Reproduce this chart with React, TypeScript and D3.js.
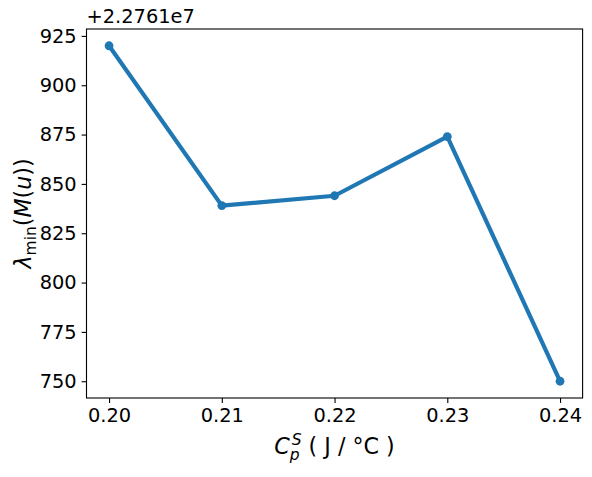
import React, { useEffect, useRef } from "react";
import * as d3 from "d3";

// heat capacity values (x) and lambda_min offsets (y), offset +2.2761e7
const capacity = [0.2, 0.21, 0.22, 0.23, 0.24];
const lambdaMin = [920, 839, 844, 874, 750];
const xTicks = [0.2, 0.21, 0.22, 0.23, 0.24];
const yTicks = [750, 775, 800, 825, 850, 875, 900, 925];
const offsetLabel = "+2.2761e7";

const W = 592;
const H = 477;
const margin = { left: 86.5, right: 9.4, top: 29, bottom: 79 };

const App = () => {
  const ref = useRef<SVGSVGElement>(null);

  useEffect(() => {
    const svg = d3.select(ref.current);
    svg.selectAll("*").remove();

    const width = W - margin.left - margin.right;
    const height = H - margin.top - margin.bottom;
    const font = "DejaVu Sans, sans-serif";

    const x = d3.scaleLinear().domain([0.198, 0.242]).range([0, width]);
    const y = d3.scaleLinear().domain([741.5, 928.5]).range([height, 0]);

    const g = svg
      .append("g")
      .attr("transform", `translate(${margin.left}, ${margin.top})`);

    const xAxis = g
      .append("g")
      .attr("transform", `translate(0, ${height})`)
      .call(
        d3
          .axisBottom(x)
          .tickValues(xTicks)
          .tickFormat(d3.format(".2f"))
          .tickSize(4.9)
          .tickPadding(4.9)
      );
    const yAxis = g.append("g").call(
      d3
        .axisLeft(y)
        .tickValues(yTicks)
        .tickFormat(d3.format("d"))
        .tickSize(4.9)
        .tickPadding(4.9)
    );
    [xAxis, yAxis].forEach((a) => {
      a.select(".domain").remove();
      a.selectAll(".tick line").attr("stroke", "#000").attr("stroke-width", 1.1);
      a.selectAll(".tick text")
        .attr("fill", "#000")
        .style("font-family", font)
        .style("font-size", "19.4px");
    });

    // frame
    g.append("rect")
      .attr("width", width)
      .attr("height", height)
      .attr("fill", "none")
      .attr("stroke", "#000")
      .attr("stroke-width", 1.1);

    const pts = capacity.map((c, i) => [c, lambdaMin[i]] as [number, number]);
    g.append("path")
      .datum(pts)
      .attr("fill", "none")
      .attr("stroke", "#1f77b4")
      .attr("stroke-width", 4.2)
      .attr("stroke-linejoin", "round")
      .attr("stroke-linecap", "square")
      .attr(
        "d",
        d3
          .line<[number, number]>()
          .x((d) => x(d[0]))
          .y((d) => y(d[1]))
      );
    g.selectAll("circle.pt")
      .data(pts)
      .enter()
      .append("circle")
      .attr("class", "pt")
      .attr("cx", (d) => x(d[0]))
      .attr("cy", (d) => y(d[1]))
      .attr("r", 4.4)
      .attr("fill", "#1f77b4");

    // offset text
    g.append("text")
      .attr("x", 0)
      .attr("y", -6)
      .style("font-family", font)
      .style("font-size", "19.4px")
      .text(offsetLabel);

    // x label
    const xl = g
      .append("text")
      .attr("x", width / 2)
      .attr("y", height + 56)
      .attr("text-anchor", "middle")
      .style("font-family", font)
      .style("font-size", "22.2px");
    xl.append("tspan").attr("font-style", "italic").text("C");
    xl.append("tspan")
      .attr("font-style", "italic")
      .attr("font-size", "15.5px")
      .attr("dy", 6)
      .text("p");
    xl.append("tspan")
      .attr("font-style", "italic")
      .attr("font-size", "15.5px")
      .attr("dx", -8)
      .attr("dy", -15)
      .text("S");
    xl.append("tspan").attr("dy", 9).text(" ( J / °C )");

    // y label
    const yl = g
      .append("text")
      .attr("transform", `translate(-56, ${height / 2}) rotate(-90)`)
      .attr("text-anchor", "middle")
      .style("font-family", font)
      .style("font-size", "22.2px");
    yl.append("tspan").attr("font-style", "italic").text("λ");
    yl.append("tspan").attr("font-size", "15.5px").attr("dy", 5).text("min");
    yl.append("tspan").attr("dy", -5).text("(");
    yl.append("tspan").attr("font-style", "italic").text("M");
    yl.append("tspan").text("(");
    yl.append("tspan").attr("font-style", "italic").text("u");
    yl.append("tspan").text("))");
  }, []);

  return (
    <svg
      ref={ref}
      width={W}
      height={H}
      style={{ position: "absolute", left: 0, top: 0, background: "#fff" }}
    />
  );
};

export default App;
